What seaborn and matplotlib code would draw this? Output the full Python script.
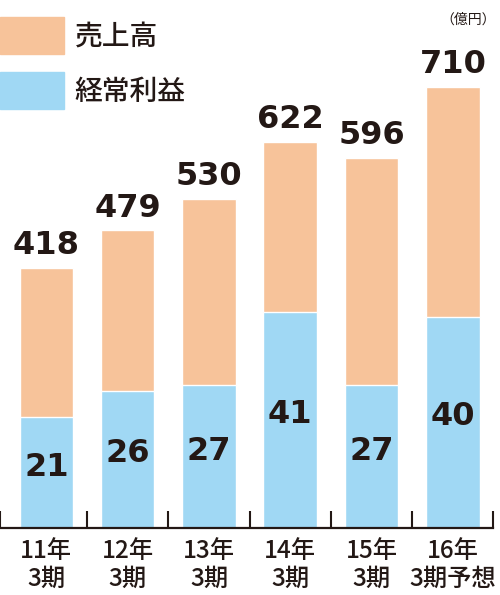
import seaborn as sns
import matplotlib.pyplot as plt
from matplotlib.patches import Patch

# 決算データ（億円）
periods = ['11年\n3期', '12年\n3期', '13年\n3期', '14年\n3期', '15年\n3期', '16年\n3期予想']
sales = [418, 479, 530, 622, 596, 710]
profit = [21, 26, 27, 41, 27, 40]
legend_labels = ['売上高', '経常利益']

orange = '#F7C39A'
blue = '#A0D8F4'
ink = '#231815'

sns.set_style('white')
plt.rcParams['font.family'] = ['Noto Sans CJK JP', 'DejaVu Sans']

fig = plt.figure(figsize=(5, 5.95), dpi=100)
ax = fig.add_axes([0.0, 67 / 595, 1.0, 528 / 595])

# 売上高（背面）
sns.barplot(x=periods, y=sales, color=orange, saturation=1, width=0.66, ax=ax)
ax.set_ylim(0, 850)

# 経常利益（前面、別スケール）
ax2 = ax.twinx()
sns.barplot(x=periods, y=profit, color=blue, saturation=1, width=0.66, ax=ax2)
ax2.set_ylim(0, 100)

ax.set_xlim(-0.57, 5.58)
for a in (ax, ax2):
    a.set_ylabel('')
    a.set_yticks([])
    for s in a.spines.values():
        s.set_visible(False)
ax2.spines['bottom'].set_visible(True)
ax2.spines['bottom'].set_color(ink)
ax2.spines['bottom'].set_linewidth(1.6)
ax2.spines['bottom'].set_bounds(-0.57, 5.5)

# 区切りの目盛り
ax.set_xticks([-0.57, 0.5, 1.5, 2.5, 3.5, 4.5, 5.5], minor=True)
ax.tick_params(axis='x', which='minor', direction='in', length=12.5, width=1.5, color=ink, bottom=True)
ax.tick_params(axis='x', which='major', length=0, pad=7, labelsize=17.5, labelcolor=ink)
for t in ax.get_xticklabels():
    t.set_linespacing(1.12)
    t.set_fontweight('medium')
ax.set_xlabel('')

ax.bar_label(ax.containers[0], padding=5, fontsize=23, fontweight='bold',
             color=ink, family='DejaVu Sans')
for i, v in enumerate(profit):
    ax2.annotate(str(v), (i, v / 2), xytext=(0, 4), textcoords='offset points',
                 ha='center', va='center', fontsize=23, fontweight='bold',
                 color=ink, family='DejaVu Sans')

handles = [Patch(color=orange), Patch(color=blue)]
leg = fig.legend(handles, legend_labels, loc='upper left', bbox_to_anchor=(0.0, 1 - 17 / 595),
                 frameon=False, fontsize=20, handlelength=2.3, handleheight=1.65,
                 labelspacing=0.68, handletextpad=0.38, borderpad=0, borderaxespad=0,
                 labelcolor=ink)
for t in leg.get_texts():
    t.set_fontweight('medium')

fig.text(468 / 500, 1 - 20 / 595, '（億円）', fontsize=10, ha='center', va='center', color=ink)

fig.savefig('out.png', dpi=100)
